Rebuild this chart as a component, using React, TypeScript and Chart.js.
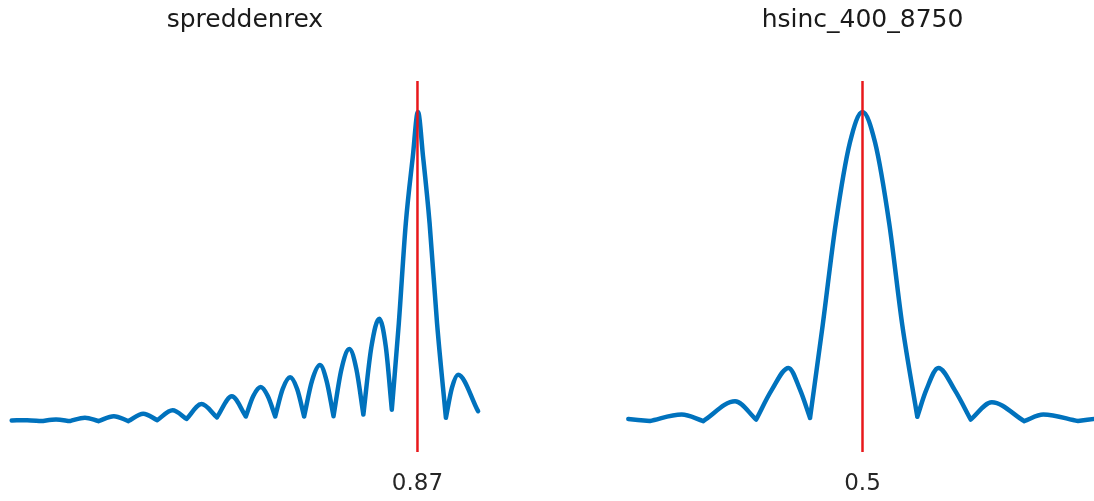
import React, { useEffect, useRef } from 'react';
import { Chart, registerables } from 'chart.js';

Chart.register(...registerables);

const leftTitle = 'spreddenrex';
const rightTitle = 'hsinc_400_8750';
const leftMarker = [0.87];
const rightMarker = [0.5];
const leftTickLabels = ['0.87'];
const rightTickLabels = ['0.5'];
const yLimits = [-0.1, 1.1];

// null values split the curve at a trough so each trough stays a sharp V
const leftX = [
  0.000, 0.033, 0.063,
  0.063, 0.063, 0.095, 0.125,
  0.125, 0.125, 0.157, 0.186,
  0.186, 0.186, 0.219, 0.250,
  0.250, 0.250, 0.282, 0.312,
  0.312, 0.312, 0.345, 0.375,
  0.375, 0.375, 0.407, 0.440,
  0.440, 0.440, 0.472, 0.502,
  0.502, 0.502, 0.518, 0.534, 0.549, 0.565,
  0.565, 0.565, 0.581, 0.597, 0.612, 0.627,
  0.627, 0.627, 0.644, 0.661, 0.675, 0.690,
  0.690, 0.690, 0.707, 0.724, 0.739, 0.754,
  0.754, 0.754, 0.771, 0.788, 0.802, 0.815,
  0.815, 0.815, 0.830, 0.845, 0.860, 0.871, 0.882, 0.896, 0.912, 0.931,
  0.931, 0.931, 0.944, 0.957, 1.000,
];
const leftY = [
  0.002, 0.003, 0.000,
  null, 0.000, 0.005, 0.000,
  null, 0.000, 0.011, 0.000,
  null, 0.000, 0.016, 0.000,
  null, 0.000, 0.024, 0.003,
  null, 0.003, 0.035, 0.007,
  null, 0.007, 0.055, 0.012,
  null, 0.012, 0.080, 0.015,
  null, 0.015, 0.081, 0.110, 0.081, 0.015,
  null, 0.015, 0.104, 0.142, 0.104, 0.015,
  null, 0.015, 0.131, 0.181, 0.131, 0.016,
  null, 0.016, 0.168, 0.233, 0.168, 0.021,
  null, 0.021, 0.238, 0.331, 0.242, 0.037,
  null, 0.037, 0.316, 0.640, 0.855, 1.000, 0.855, 0.640, 0.316, 0.011,
  null, 0.011, 0.108, 0.150, 0.032,
];

const rightX = [
  0.000, 0.046,
  0.046, 0.046, 0.114, 0.160,
  0.160, 0.160, 0.228, 0.273,
  0.273, 0.273, 0.306, 0.342, 0.367, 0.388,
  0.388, 0.388, 0.415, 0.443, 0.473, 0.500, 0.527, 0.557, 0.585, 0.617,
  0.617, 0.617, 0.636, 0.662, 0.697, 0.731,
  0.731, 0.731, 0.776, 0.845,
  0.845, 0.845, 0.886, 0.960,
  0.960, 0.960, 1.000,
];
const rightY = [
  0.007, 0.000,
  null, 0.000, 0.021, 0.000,
  null, 0.000, 0.064, 0.005,
  null, 0.005, 0.100, 0.172, 0.100, 0.010,
  null, 0.010, 0.310, 0.640, 0.900, 1.000, 0.900, 0.640, 0.310, 0.014,
  null, 0.014, 0.100, 0.172, 0.100, 0.005,
  null, 0.005, 0.061, 0.000,
  null, 0.000, 0.021, 0.000,
  null, 0.000, 0.008,
];

const BLUE = '#0072BD';
const RED = '#E8181B';
const FONT = "'DejaVu Sans', 'Liberation Sans', Arial, sans-serif";

type PanelProps = {
  title: string;
  xs: number[];
  ys: (number | null)[];
  marker: number[];
  tickLabels: string[];
  left: number;
  width: number;
  padLeft: number;
  padRight: number;
};

function Panel({ title, xs, ys, marker, tickLabels, left, width, padLeft, padRight }: PanelProps) {
  const ref = useRef<HTMLCanvasElement | null>(null);
  useEffect(() => {
    if (!ref.current) return;
    const chart = new Chart(ref.current, {
      type: 'line',
      data: {
        datasets: [
          {
            data: [
              { x: marker[0], y: yLimits[0] },
              { x: marker[0], y: yLimits[1] },
            ],
            borderColor: RED,
            borderWidth: 2.5,
            pointRadius: 0,
            order: 0,
            clip: false,
          } as any,
          {
            data: xs.map((x, i) => ({ x, y: ys[i] })),
            borderColor: BLUE,
            borderWidth: 4.5,
            pointRadius: 0,
            cubicInterpolationMode: 'monotone',
            spanGaps: false,
            borderCapStyle: 'round',
            borderJoinStyle: 'round',
            order: 1,
            clip: false,
          } as any,
        ],
      },
      options: {
        responsive: false,
        maintainAspectRatio: false,
        animation: false,
        events: [],
        layout: { padding: { left: padLeft, right: padRight, top: 0, bottom: 0 } },
        plugins: {
          legend: { display: false },
          tooltip: { enabled: false },
          title: {
            display: true,
            text: title,
            color: '#1a1a1a',
            font: { family: FONT, size: 25, weight: 'normal' },
            padding: { top: 5, bottom: 46 },
          },
        },
        scales: {
          x: {
            type: 'linear',
            min: 0,
            max: 1,
            grid: { display: false, drawTicks: false },
            border: { display: false },
            afterBuildTicks: (s: any) => {
              s.ticks = marker.map((v) => ({ value: v }));
            },
            afterFit: (s: any) => {
              s.height = 49;
            },
            ticks: {
              autoSkip: false,
              maxRotation: 0,
              padding: 18,
              color: '#262626',
              font: { family: FONT, size: 23 },
              callback: (_v: any, i: number) => tickLabels[i],
            },
          },
          y: {
            display: false,
            min: yLimits[0],
            max: yLimits[1],
          },
        },
      } as any,
    });
    return () => chart.destroy();
  }, []);
  return (
    <canvas
      ref={ref}
      width={width}
      height={501}
      style={{ position: 'absolute', left, top: 0, width, height: 501, display: 'block' }}
    />
  );
}

export default function App() {
  return (
    <div
      style={{
        position: 'absolute',
        left: 0,
        top: 0,
        width: 1094,
        height: 501,
        overflow: 'hidden',
        background: '#ffffff',
      }}
    >
      <Panel
        title={leftTitle}
        xs={leftX}
        ys={leftY}
        marker={leftMarker}
        tickLabels={leftTickLabels}
        left={0}
        width={490}
        padLeft={11.7}
        padRight={11.9}
      />
      <Panel
        title={rightTitle}
        xs={rightX}
        ys={rightY}
        marker={rightMarker}
        tickLabels={rightTickLabels}
        left={616}
        width={492}
        padLeft={12.3}
        padRight={11.3}
      />
    </div>
  );
}
